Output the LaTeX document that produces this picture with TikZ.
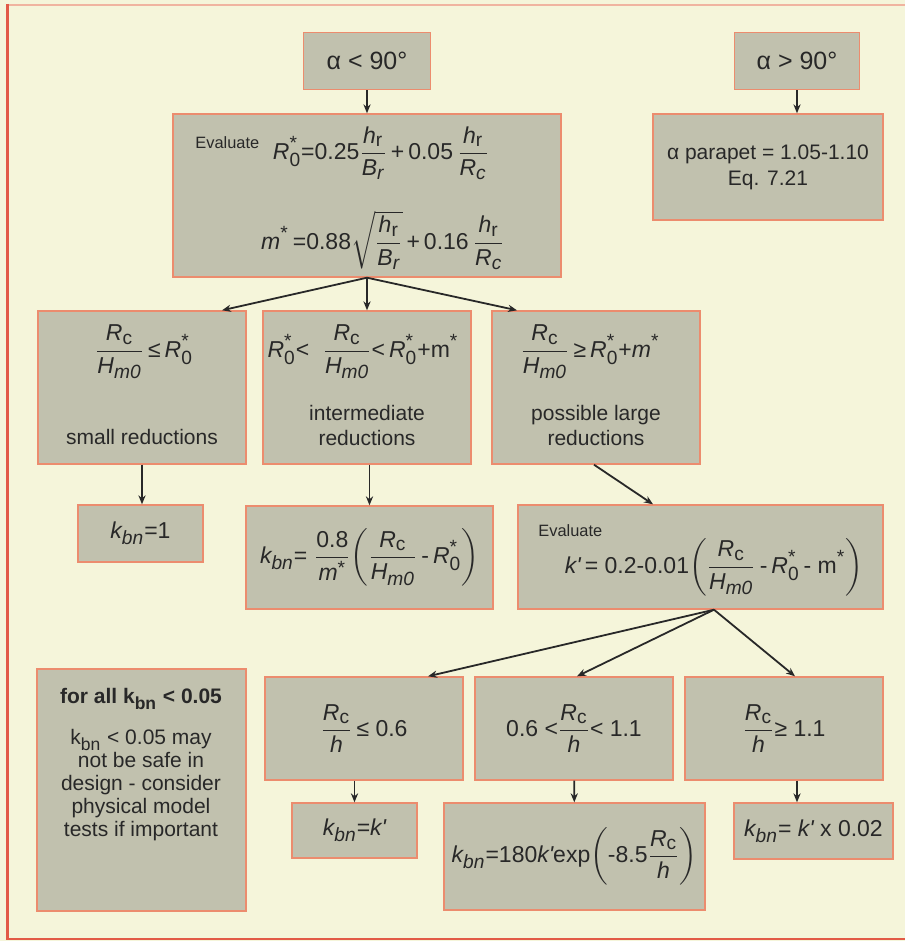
\documentclass[tikz,border=0pt]{standalone}
\usepackage{amsmath}
\usepackage{fontspec}
\setmainfont{Liberation Sans}
\usepackage[italic]{mathastext}
\usepackage{tikz}
\usetikzlibrary{arrows.meta}
\usepackage{xcolor}
\definecolor{PageBg}{RGB}{245,245,218}
\definecolor{BoxFill}{RGB}{193,193,174}
\definecolor{BoxLine}{RGB}{236,140,110}
\definecolor{FrameRed}{RGB}{226,90,70}
\definecolor{FrameTop}{RGB}{240,180,160}
\definecolor{InkGrey}{RGB}{40,40,40}
% text pieces inside formulas, and k prime
\newcommand\tx[1]{\text{#1}}
\newcommand\kp{k\text{\itshape\textquotesingle}}
\tikzset{
	>={Stealth[length=4.5pt,width=3.6pt]},
	box/.style={draw=BoxLine, fill=BoxFill, line width=0.7pt, inner sep=0pt},
	boxsize/.style 2 args={minimum width=#1*0.5pt, minimum height=#2*0.5pt},
	flow/.style={InkGrey, line width=0.9pt, ->},
	txt/.style={text=InkGrey, font=\fontsize{10.5}{12.5}\selectfont, align=center, inner sep=0pt},
	bigtxt/.style={txt, font=\fontsize{12.5}{14}\selectfont},
	eqn/.style={text=InkGrey, font=\fontsize{11.5}{13}\selectfont, inner sep=0pt},
	tag/.style={text=InkGrey, font=\fontsize{8.2}{9.5}\selectfont, inner sep=0pt},
}

\begin{document}
\begin{tikzpicture}[x=0.5pt, y=-0.5pt]
			
			% Page and frame
			\fill[PageBg] (0,0) rectangle (905,941);
			\useasboundingbox (0,0) rectangle (905,941);
			\draw[FrameTop, line width=0.7pt] (6,5) -- (905,5);
			\draw[FrameRed, line width=1pt] (6,939) -- (905,939);
			\draw[FrameRed, line width=1.5pt] (7.5,4) -- (7.5,940);
			
			% Angle of the wall
			\node[box, boxsize={127}{57}, bigtxt] (ltninety) at (367,61) {α < 90°};
			\node[box, boxsize={125}{57}, bigtxt] (gtninety) at (797,61) {α > 90°};
			
			% Evaluate R0* and m*
			\node[box, boxsize={388}{163}] (evalr) at (367,195.5) {};
			\node[tag, anchor=west] (evalrtag) at (195,143) {Evaluate};
			\node[eqn] (evalrone) at (381,153)
			{$\displaystyle R^{\tx{*}}_{\tx{0}}\tx{=}\tx{0.25}\frac{h_{\mathrm{r}}}{B_{r}}\,\tx{+}\,\tx{0.05}\,\frac{h_{\mathrm{r}}}{R_{c}}$};
			\node[eqn] (evalrtwo) at (383,240)
			{$\displaystyle m^{\tx{*}}\,\tx{=}\tx{0.88}\sqrt{\frac{h_{\mathrm{r}}}{B_{r}}}\,\tx{+}\,\tx{0.16}\,\frac{h_{\mathrm{r}}}{R_{c}}$};
			
			% Parapet
			\node[box, boxsize={230}{106}, txt, font=\fontsize{10.5}{13}\selectfont] (parapet) at (768,167)
			{α parapet = 1.05-1.10\\Eq. 7.21};
			
			% Three ranges of Rc/Hm0
			\node[box, boxsize={208}{153}] (small) at (142,387.5) {};
			\node[box, boxsize={208}{153}] (inter) at (367,387.5) {};
			\node[box, boxsize={208}{153}] (large) at (596,387.5) {};
			\node[eqn] (smallf) at (144,352)
			{$\displaystyle\frac{R_{\mathrm{c}}}{H_{\mathit{m0}}}\,\tx{≤}\,R^{\tx{*}}_{\tx{0}}$};
			\node[eqn] (interf) at (363,352)
			{$\displaystyle R^{\tx{*}}_{\tx{0}}\tx{<}\;\;\frac{R_{\mathrm{c}}}{H_{\mathit{m0}}}\tx{<}\,R^{\tx{*}}_{\tx{0}}\tx{+m}^{\tx{*}}$};
			\node[eqn] (largef) at (590,352)
			{$\displaystyle\frac{R_{\mathrm{c}}}{H_{\mathit{m0}}}\,\tx{≥}\,R^{\tx{*}}_{\tx{0}}\tx{+}m^{\tx{*}}$};
			\node[txt] (smallt) at (142,437) {small reductions};
			\node[txt] (intert) at (367,425) {intermediate\\reductions};
			\node[txt] (larget) at (596,425) {possible large\\reductions};
			
			% Reduction factors
			\node[box, boxsize={125}{57}, eqn] (kbone) at (140.5,533.5) {$k_{bn}\tx{=1}$};
			\node[box, boxsize={247}{103}, eqn] (kbeight) at (369.5,557.5)
			{$\displaystyle k_{bn}\tx{=}\;\frac{\tx{0.8}}{m^{\tx{*}}}\!\left(\frac{R_{\mathrm{c}}}{H_{\mathit{m0}}}\,\tx{-}\,R^{\tx{*}}_{\tx{0}}\right)$};
			\node[box, boxsize={365}{104}] (kprime) at (700.5,557) {};
			\node[tag, anchor=west] (kprimetag) at (538,531) {Evaluate};
			\node[eqn] (kprimef) at (714,567)
			{$\displaystyle \kp\,\tx{= 0.2-0.01}\!\left(\frac{R_{\mathrm{c}}}{H_{\mathit{m0}}}\,\tx{-}\,R^{\tx{*}}_{\tx{0}}\,\tx{- m}^{\tx{*}}\right)$};
			
			% Note on small values
			\node[box, boxsize={209}{242}] (note) at (141.5,790) {};
			\node[txt, font=\fontsize{10.5}{11.5}\selectfont] (notet) at (141,765)
			{\textbf{for all k$_{\mathbf{bn}}$ < 0.05}\\[9pt]
				k$_{\mathrm{bn}}$ < 0.05 may\\not be safe in\\design - consider\\physical model\\tests if important};
			
			% Ranges of Rc/h
			\node[box, boxsize={198}{103}, eqn] (cone) at (364,728.5)
			{$\displaystyle\frac{R_{\mathrm{c}}}{h}\,\tx{≤ 0.6}$};
			\node[box, boxsize={198}{103}, eqn] (ctwo) at (574,728.5)
			{$\displaystyle \tx{0.6 <}\frac{R_{\mathrm{c}}}{h}\tx{< 1.1}$};
			\node[box, boxsize={198}{103}, eqn] (cthree) at (784,728.5)
			{$\displaystyle\frac{R_{\mathrm{c}}}{h}\tx{≥ 1.1}$};
			
			\node[box, boxsize={125}{55}, eqn] (kbk) at (354.5,830.5) {$k_{bn}\tx{=}\kp$};
			\node[box, boxsize={261}{107}, eqn] (kexp) at (574.5,856.5)
			{$\displaystyle k_{bn}\tx{=180}\kp\tx{exp}\!\left(\tx{-8.5}\frac{R_{\mathrm{c}}}{h}\right)$};
			\node[box, boxsize={159}{56}, eqn] (ktiny) at (813.5,831) {$k_{bn}$= $\kp$ x 0.02};
			
			% Arrows
			\draw[flow] (ltninety) -- (evalr);
			\draw[flow] (gtninety.south) -- (gtninety.south |- parapet.north);
			\draw[flow] (evalr.south) -- ([xshift=40pt]small.north);
			\draw[flow] (evalr.south) -- (evalr.south |- inter.north);
			\draw[flow] (evalr.south) -- ([xshift=-39.5pt]large.north);
			\draw[flow] (small.south) -- (small.south |- kbone.north);
			\draw[flow] (kbeight.north |- inter.south) -- (kbeight.north);
			\draw[flow] ([xshift=-1pt]large.south) -- ([xshift=-23.75pt]kprime.north);
			\draw[flow] ([xshift=6.75pt]kprime.south) -- ([xshift=32pt]cone.north);
			\draw[flow] ([xshift=6.75pt]kprime.south) -- ([xshift=1.5pt]ctwo.north);
			\draw[flow] ([xshift=6.75pt]kprime.south) -- ([xshift=5.5pt]cthree.north);
			\draw[flow] (kbk.north |- cone.south) -- (kbk.north);
			\draw[flow] (ctwo) -- (kexp);
			\draw[flow] ([xshift=6.5pt]cthree.south) -- ([xshift=6.5pt]cthree.south |- ktiny.north);
			
		\end{tikzpicture}
\end{document}
